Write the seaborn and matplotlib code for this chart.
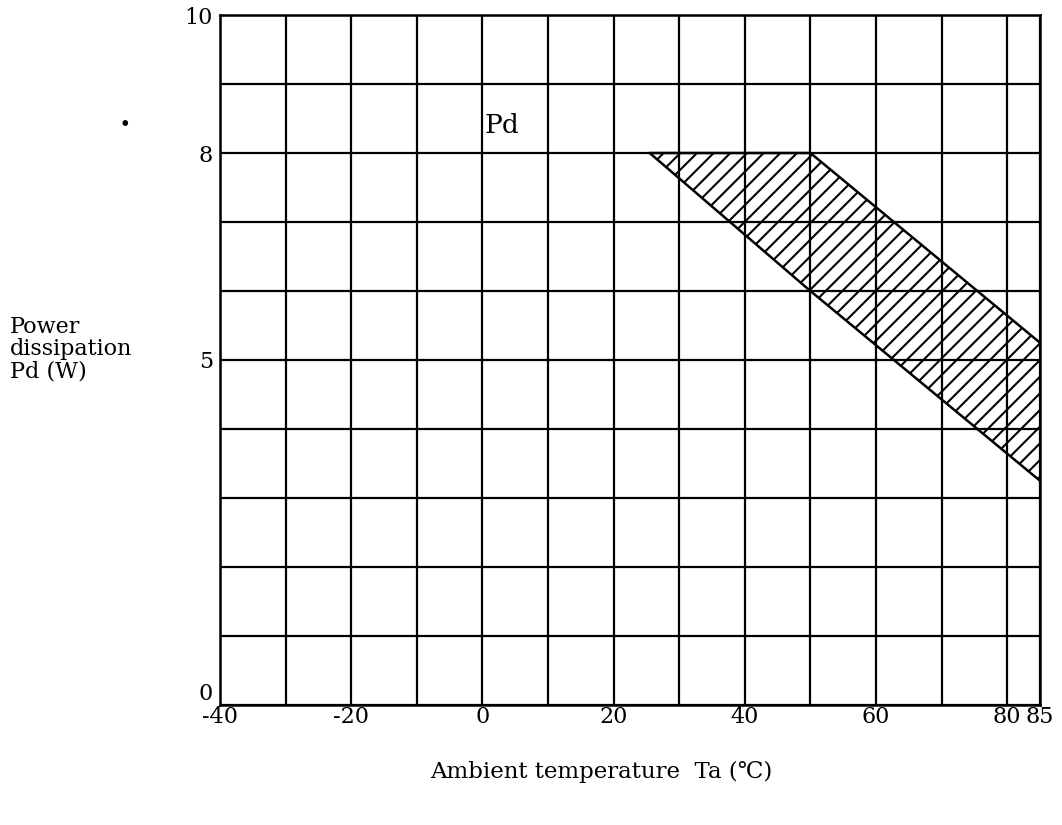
import matplotlib
matplotlib.use("Agg")
import matplotlib.pyplot as plt
import matplotlib.transforms as mtransforms
import seaborn as sns
import pandas as pd
import numpy as np

# ---- data ----
x_grid = [-40, -30, -20, -10, 0, 10, 20, 30, 40, 50, 60, 70, 80, 85]
x_labels = ["-40", "", "-20", "", "0", "", "20", "", "40", "", "60", "", "80", "85"]
y_grid = [0, 1, 2, 3, 4, 5, 6, 7, 8, 9, 10]
y_labels = ["0", "", "", "", "", "5", "", "", "8", "", "10"]

# Pd derating band (hatched region)
band_x = [25.5, 50, 85]
band_upper = [8.0, 8.0, 5.25]
band_lower = [8.0, 6.0, 3.25]

sns.set_theme(style="white")
plt.rcParams["font.family"] = ["DejaVu Serif", "DejaVu Sans"]
plt.rcParams["hatch.linewidth"] = 1.5
plt.rcParams["hatch.color"] = "black"

fig = plt.figure(figsize=(10.62, 8.25), dpi=100)
ax = fig.add_axes([220 / 1062, 1 - 705 / 825, (1040 - 220) / 1062, (705 - 15) / 825])

# hatched band
ax.fill_between(band_x, band_lower, band_upper, facecolor="none",
                edgecolor="black", hatch="//", linewidth=0, zorder=2)

# band boundaries
df = pd.DataFrame({"x": band_x * 2,
                   "y": band_upper + band_lower,
                   "edge": ["upper"] * 3 + ["lower"] * 3})
sns.lineplot(data=df, x="x", y="y", units="edge", estimator=None,
             color="black", linewidth=1.8, ax=ax, zorder=3, legend=False)

ax.set_xlim(-40, 85)
ax.set_ylim(0, 10)
ax.set_xticks(x_grid)
ax.set_xticklabels(x_labels)
ax.set_yticks(y_grid)
ax.set_yticklabels(y_labels)
ax.grid(True, color="black", linewidth=1.6)
ax.set_axisbelow(True)
for s in ax.spines.values():
    s.set_color("black")
    s.set_linewidth(1.8)
ax.tick_params(axis="both", length=0, labelsize=16, colors="black")
ax.tick_params(axis="x", pad=1)
ax.tick_params(axis="y", pad=5)
ax.set_xlabel("")
ax.set_ylabel("")

# lift the "0" y label above the corner, as in the reference
zero_lbl = ax.get_yticklabels()[0]
zero_lbl.set_transform(zero_lbl.get_transform() +
                       mtransforms.ScaledTranslation(0, 14 / 100, fig.dpi_scale_trans))

ax.text(3, 8.4, "Pd", fontsize=19, ha="center", va="center", color="black")

fig.text(10 / 1062, 1 - 349 / 825, "Power\ndissipation\nPd (W)", fontsize=16,
         ha="left", va="center", linespacing=1.0, color="black")
fig.text(601 / 1062, 1 - 772 / 825, "Ambient temperature  Ta (\u2103)", fontsize=16.5,
         ha="center", va="center", color="black")
fig.text(125 / 1062, 1 - 118 / 825, ".", fontsize=22, fontweight="bold",
         ha="center", va="center", color="black")

fig.savefig("out.png", dpi=100, facecolor="white")
